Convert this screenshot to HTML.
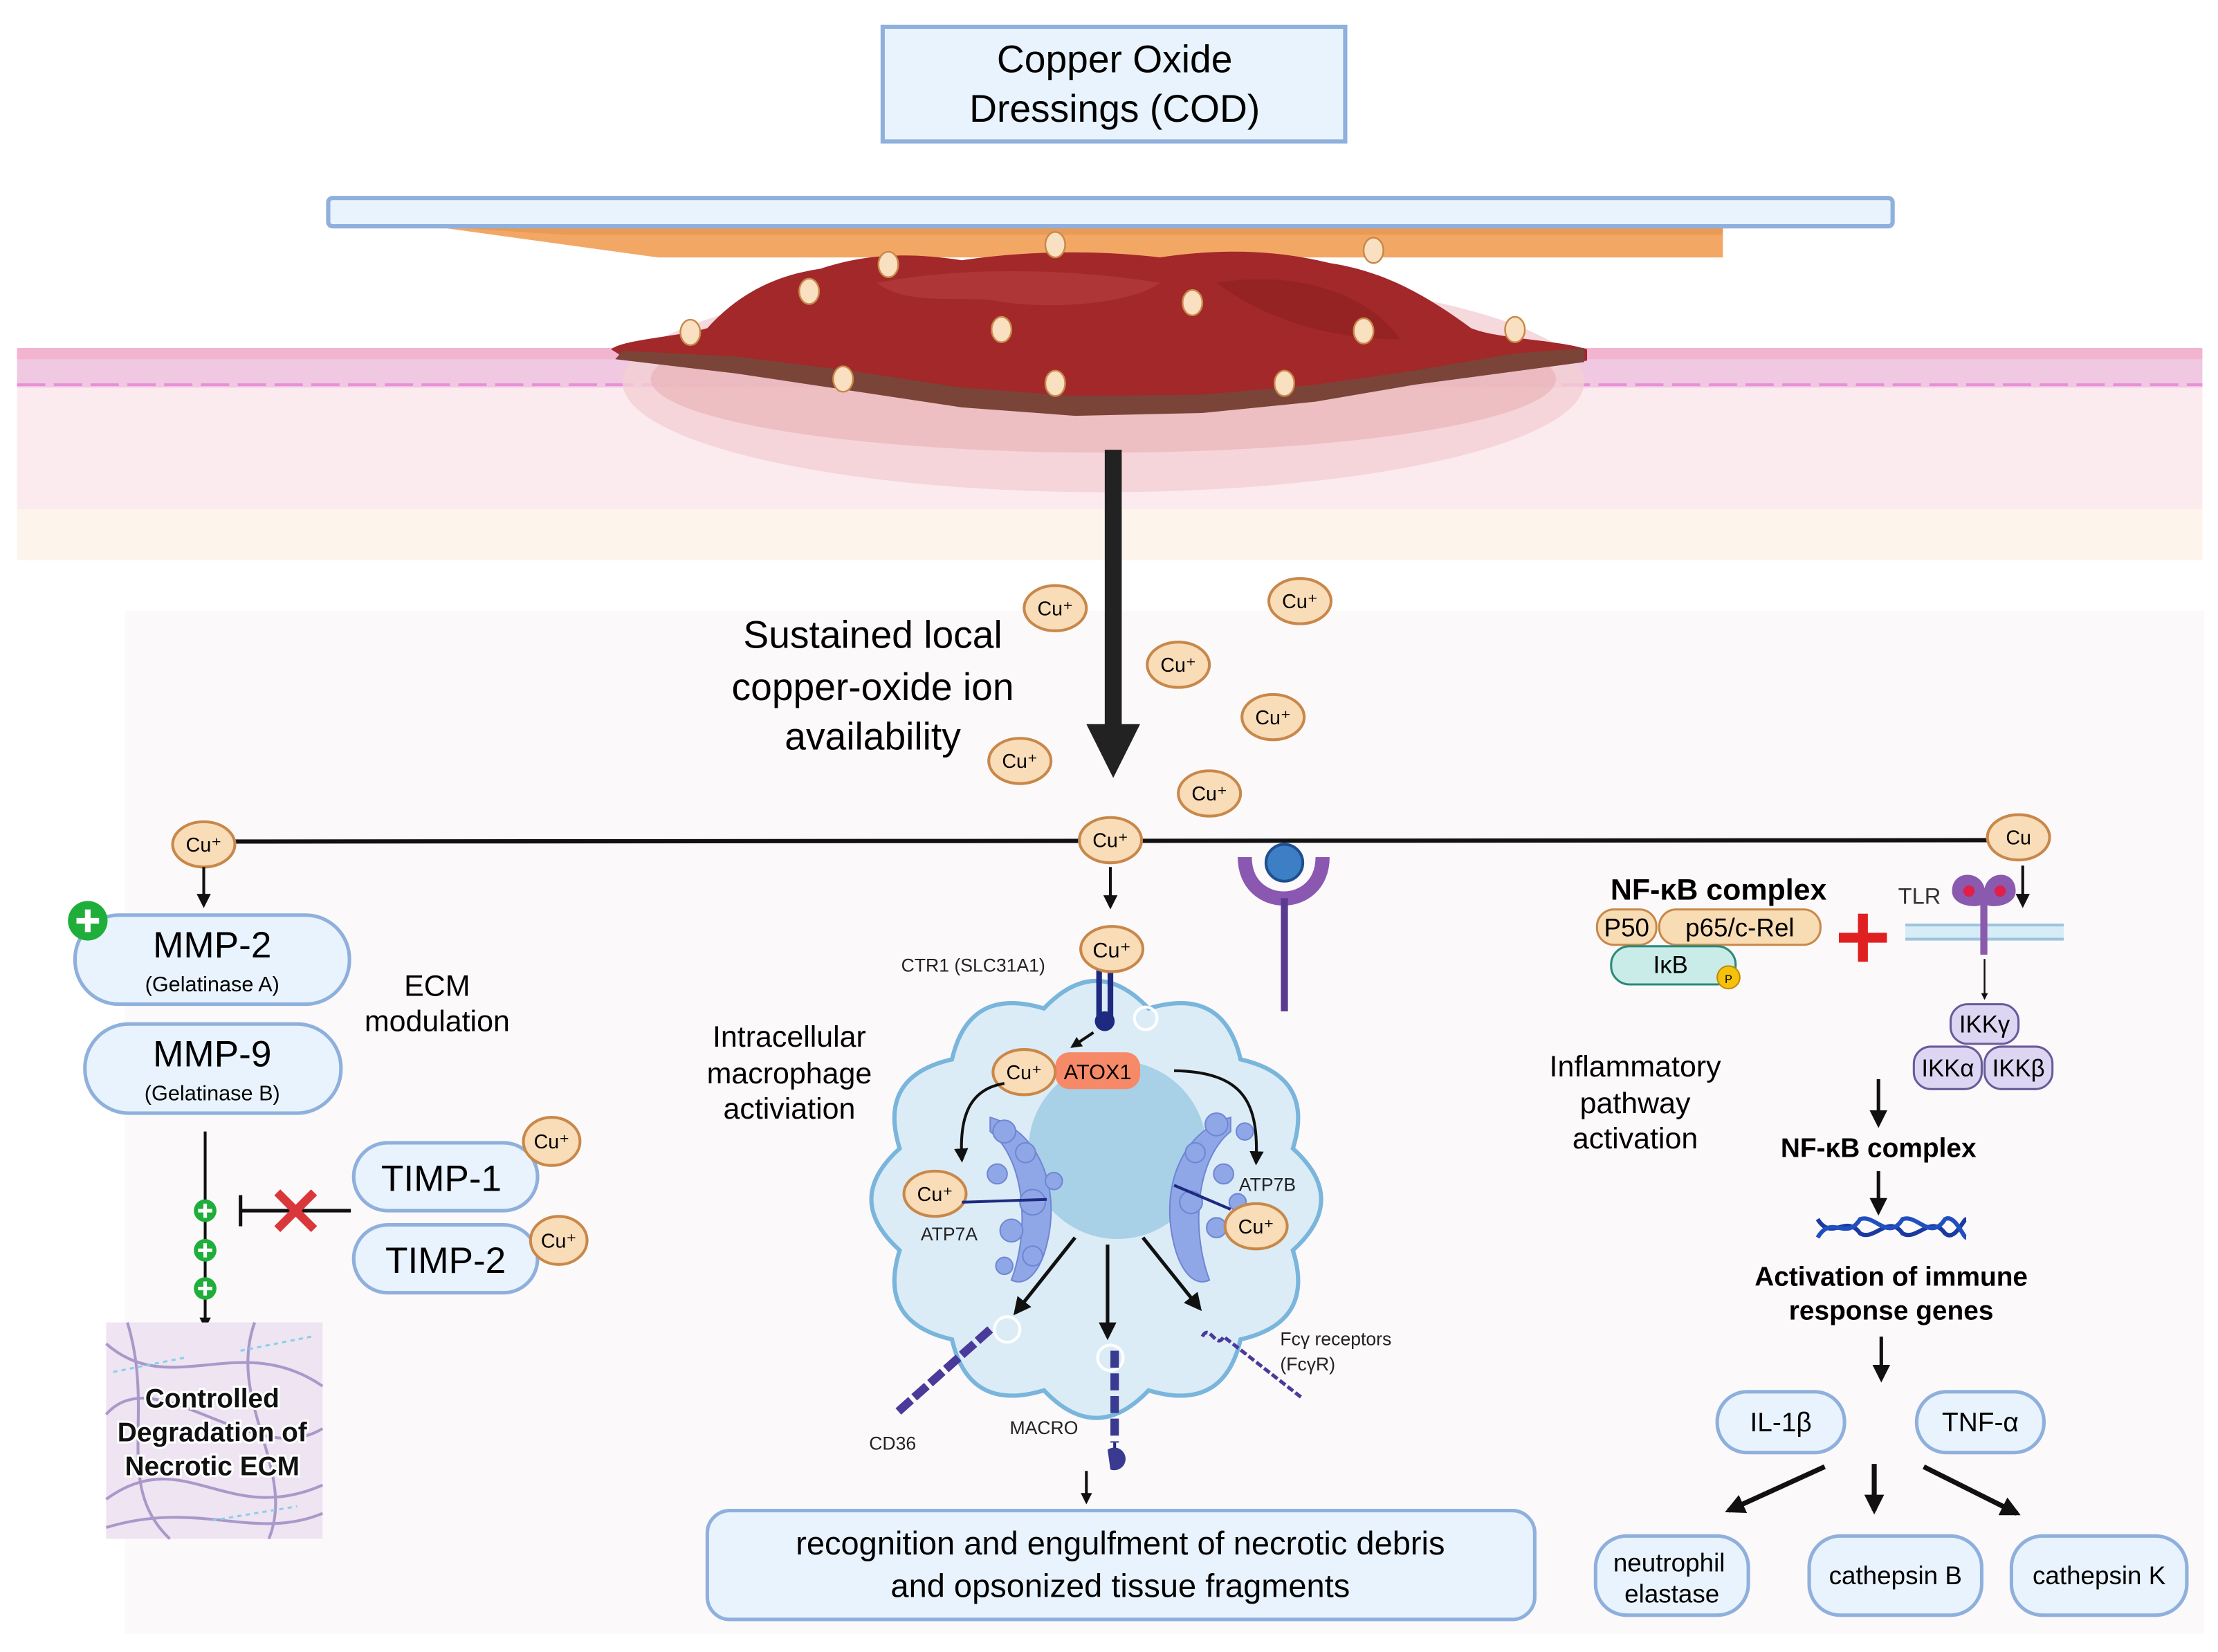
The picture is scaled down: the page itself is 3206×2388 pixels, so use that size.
<!DOCTYPE html>
<html><head><meta charset="utf-8"><style>
html,body{margin:0;padding:0;background:#fff}
svg{display:block}
text{font-family:"Liberation Sans",sans-serif}
</style></head><body>
<svg width="3206" height="2388" viewBox="0 0 1568 1168" xmlns="http://www.w3.org/2000/svg">
<defs>
<marker id="ah" viewBox="0 0 10 10" refX="8" refY="5" markerWidth="5" markerHeight="5" orient="auto"><path d="M0,0 L10,5 L0,10 z" fill="#111"/></marker>
<marker id="ahs" viewBox="0 0 10 10" refX="8" refY="5" markerWidth="4" markerHeight="4" orient="auto"><path d="M0,0 L10,5 L0,10 z" fill="#111"/></marker>
<g id="cu"><ellipse rx="22" ry="16" fill="#f9dcb8" stroke="#c8884a" stroke-width="2"/></g>
<g id="cus"><ellipse rx="7" ry="9" fill="#f9e0c0" stroke="#c8884a" stroke-width="1.2"/></g>
</defs>
<rect width="1568" height="1168" fill="#fff"/>
<rect x="88" y="432" width="1470" height="723" fill="#fcf9fb"/>
<!-- title -->
<rect x="624" y="19" width="327" height="81" fill="#e9f3fd" stroke="#8fb0dc" stroke-width="3"/>
<text x="788" y="51" font-size="27" text-anchor="middle">Copper Oxide</text>
<text x="788" y="86" font-size="27" text-anchor="middle">Dressings (COD)</text>
<!-- skin -->
<rect x="12" y="248" width="1545" height="148" fill="#fcebee"/>
<rect x="12" y="360" width="1545" height="36" fill="#fdf5ec"/>
<rect x="12" y="250" width="1545" height="24" fill="#f0c8e2"/>
<rect x="12" y="246" width="1545" height="8" fill="#f3b4cf"/>
<line x1="12" y1="272" x2="1557" y2="272" stroke="#e890d8" stroke-width="2" stroke-dasharray="20 6"/>
<ellipse cx="780" cy="270" rx="340" ry="78" fill="#f3d0d4" opacity="0.8"/>
<ellipse cx="780" cy="268" rx="320" ry="52" fill="#e9b3b8" opacity="0.7"/>
<!-- dressing -->
<polygon points="305,160 1218,160 1218,182 465,182" fill="#f3a764"/>
<polygon points="305,160 1218,160 1218,166 400,166" fill="#e99a55"/>
<rect x="232" y="140" width="1106" height="20" rx="3" fill="#e9f3fd" stroke="#8fb0dc" stroke-width="3"/>
<!-- wound -->
<path d="M432,247 C440,240 480,238 500,232 C520,210 545,195 580,190 C610,180 640,178 680,184 C720,178 770,176 820,182 C860,176 900,176 940,186 C980,192 1010,210 1040,232 C1060,240 1100,240 1122,247 L1122,255 L1060,262 L1000,270 L930,282 L850,290 L760,292 L680,285 L600,272 L520,262 L440,252 Z" fill="#a2282a"/>
<path d="M440,248 L520,252 L600,262 L680,274 L760,280 L850,279 L930,272 L1000,262 L1070,250 L1120,246 L1120,256 L1000,272 L930,284 L850,292 L760,294 L680,288 L600,276 L520,264 L435,254 Z" fill="#7a4438"/>
<path d="M620,200 C680,188 760,190 820,200 C800,215 740,220 700,212 C670,210 640,215 620,200Z" fill="#b84040" opacity="0.6"/>
<path d="M860,200 C920,190 970,210 990,240 C950,240 900,230 860,200Z" fill="#8e1f22" opacity="0.6"/>
<g>
<use href="#cus" x="746" y="173"/><use href="#cus" x="971" y="177"/><use href="#cus" x="628" y="187"/><use href="#cus" x="572" y="206"/>
<use href="#cus" x="843" y="214"/><use href="#cus" x="708" y="233"/><use href="#cus" x="964" y="234"/><use href="#cus" x="488" y="235"/>
<use href="#cus" x="1071" y="233"/><use href="#cus" x="596" y="268"/><use href="#cus" x="746" y="271"/><use href="#cus" x="908" y="271"/>
</g>
<!-- main arrow -->
<rect x="781" y="318" width="12" height="196" fill="#222"/>
<polygon points="768,512 806,512 787,550" fill="#222"/>
<text font-size="27" text-anchor="middle"><tspan x="617" y="458">Sustained local</tspan><tspan x="617" y="495">copper-oxide ion</tspan><tspan x="617" y="530">availability</tspan></text>
<g font-size="14" text-anchor="middle">
<use href="#cu" x="746" y="430"/><text x="746" y="435">Cu⁺</text>
<use href="#cu" x="919" y="425"/><text x="919" y="430">Cu⁺</text>
<use href="#cu" x="833" y="470"/><text x="833" y="475">Cu⁺</text>
<use href="#cu" x="900" y="507"/><text x="900" y="512">Cu⁺</text>
<use href="#cu" x="721" y="538"/><text x="721" y="543">Cu⁺</text>
<use href="#cu" x="855" y="561"/><text x="855" y="566">Cu⁺</text>
</g>
<line x1="145" y1="595" x2="1430" y2="594" stroke="#111" stroke-width="3"/>
<g font-size="14" text-anchor="middle">
<use href="#cu" x="144" y="597"/><text x="144" y="602">Cu⁺</text>
<use href="#cu" x="785" y="594"/><text x="785" y="599">Cu⁺</text>
<use href="#cu" x="1427" y="592"/><text x="1427" y="597">Cu</text>
</g>
<!-- LEFT -->
<line x1="144" y1="613" x2="144" y2="640" stroke="#111" stroke-width="2" marker-end="url(#ah)"/>
<rect x="53" y="647" width="194" height="63" rx="31" fill="#e9f3fd" stroke="#8fb0dc" stroke-width="2.5"/>
<text x="150" y="677" font-size="26" text-anchor="middle">MMP-2</text>
<text x="150" y="701" font-size="15" text-anchor="middle">(Gelatinase A)</text>
<circle cx="62" cy="651" r="14" fill="#1fae3a"/><path d="M54,651h16M62,643v16" stroke="#fff" stroke-width="4"/>
<rect x="60" y="724" width="181" height="63" rx="31" fill="#e9f3fd" stroke="#8fb0dc" stroke-width="2.5"/>
<text x="150" y="754" font-size="26" text-anchor="middle">MMP-9</text>
<text x="150" y="778" font-size="15" text-anchor="middle">(Gelatinase B)</text>
<text x="309" y="704" font-size="21" text-anchor="middle">ECM</text>
<text x="309" y="729" font-size="21" text-anchor="middle">modulation</text>
<line x1="145" y1="800" x2="145" y2="938" stroke="#111" stroke-width="2" marker-end="url(#ahs)"/>
<g fill="#1fae3a"><circle cx="145" cy="856" r="8"/><circle cx="145" cy="884" r="8"/><circle cx="145" cy="911" r="8"/></g>
<g stroke="#fff" stroke-width="2.5"><path d="M140,856h10M145,851v10M140,884h10M145,879v10M140,911h10M145,906v10"/></g>
<line x1="170" y1="856" x2="248" y2="856" stroke="#111" stroke-width="2.5"/>
<line x1="170" y1="845" x2="170" y2="867" stroke="#111" stroke-width="2.5"/>
<path d="M196,843 L222,869 M222,843 L196,869" stroke="#d9373a" stroke-width="6"/>
<rect x="250" y="808" width="130" height="48" rx="24" fill="#e9f3fd" stroke="#8fb0dc" stroke-width="2.5"/>
<text x="312" y="842" font-size="26" text-anchor="middle">TIMP-1</text>
<rect x="250" y="866" width="130" height="48" rx="24" fill="#e9f3fd" stroke="#8fb0dc" stroke-width="2.5"/>
<text x="315" y="900" font-size="26" text-anchor="middle">TIMP-2</text>
<g font-size="14" text-anchor="middle">
<ellipse cx="390" cy="807" rx="20" ry="17" fill="#f9dcb8" stroke="#c8884a" stroke-width="2"/><text x="390" y="812">Cu⁺</text>
<ellipse cx="395" cy="877" rx="20" ry="17" fill="#f9dcb8" stroke="#c8884a" stroke-width="2"/><text x="395" y="882">Cu⁺</text>
</g>
<rect x="75" y="935" width="153" height="153" fill="#eee4f2"/>
<g stroke="#9a86c0" stroke-width="2" fill="none" opacity="0.8">
<path d="M75,950 C120,990 170,940 228,980"/><path d="M75,1000 C110,960 180,1040 228,1010"/><path d="M75,1060 C130,1020 160,1080 228,1050"/><path d="M90,935 C110,1000 80,1050 120,1088"/><path d="M180,935 C160,990 210,1040 190,1088"/><path d="M75,1080 C140,1060 180,1090 228,1070"/>
</g>
<g stroke="#8ad0e8" stroke-width="1.5" fill="none" stroke-dasharray="3 3"><path d="M80,970 L130,960"/><path d="M150,1075 L210,1065"/><path d="M170,955 L220,945"/></g>
<g font-size="19" font-weight="bold" text-anchor="middle" fill="#111" stroke="#fff" stroke-width="3" paint-order="stroke">
<text x="150" y="995">Controlled</text><text x="150" y="1019">Degradation of</text><text x="150" y="1043">Necrotic ECM</text></g>
<!-- CENTER -->
<line x1="785" y1="613" x2="785" y2="641" stroke="#111" stroke-width="2" marker-end="url(#ah)"/>
<path d="M914,812 Q954,848 914,884 Q930,935 877,947 Q865,999 812,983 Q775,1022 738,983 Q685,999 673,947 Q620,935 636,884 Q596,848 636,812 Q620,761 673,749 Q685,697 738,713 Q775,674 812,713 Q865,697 877,749 Q930,761 914,812Z" fill="#dcecf7" stroke="#7ab5dc" stroke-width="3"/>
<circle cx="790" cy="813" r="63" fill="#a8d0e6"/>
<g fill="#8fa7e6" stroke="#6f86d4" stroke-width="1">
<path d="M700,790 C735,800 750,840 740,880 C735,900 725,910 715,905 C728,870 725,820 700,800Z"/>
<circle cx="710" cy="800" r="8"/><circle cx="725" cy="815" r="7"/><circle cx="705" cy="830" r="7"/><circle cx="730" cy="850" r="9"/><circle cx="715" cy="870" r="8"/><circle cx="730" cy="888" r="7"/><circle cx="710" cy="895" r="6"/><circle cx="745" cy="835" r="6"/>
<path d="M870,790 C835,800 820,840 830,880 C835,900 845,910 855,905 C842,870 845,820 870,800Z"/>
<circle cx="860" cy="795" r="8"/><circle cx="845" cy="815" r="7"/><circle cx="865" cy="830" r="7"/><circle cx="842" cy="850" r="8"/><circle cx="860" cy="868" r="7"/><circle cx="880" cy="800" r="6"/><circle cx="875" cy="850" r="6"/>
</g>
<g fill="none" stroke="#fff" stroke-width="2"><circle cx="665" cy="850" r="10"/><circle cx="785" cy="960" r="9"/><circle cx="712" cy="940" r="9"/><circle cx="810" cy="720" r="8"/></g>
<path d="M777,684 L777,720 M785,684 L785,720" stroke="#1e2a80" stroke-width="4"/>
<circle cx="781" cy="722" r="7" fill="#1e2a80"/>
<use href="#cu" x="786" y="671"/><text x="786" y="677" font-size="15" text-anchor="middle">Cu⁺</text>
<text x="688" y="687" font-size="13" text-anchor="middle" fill="#222">CTR1 (SLC31A1)</text>
<text font-size="21" text-anchor="middle"><tspan x="558" y="740">Intracellular</tspan><tspan x="558" y="766">macrophage</tspan><tspan x="558" y="791">activiation</tspan></text>
<line x1="773" y1="730" x2="758" y2="740" stroke="#111" stroke-width="2" marker-end="url(#ahs)"/>
<rect x="746" y="744" width="60" height="26" rx="10" fill="#f68a68"/>
<text x="776" y="763" font-size="15" text-anchor="middle">ATOX1</text>
<use href="#cu" x="724" y="758"/><text x="724" y="763" font-size="14" text-anchor="middle">Cu⁺</text>
<path d="M710,766 C685,770 678,790 680,820" fill="none" stroke="#111" stroke-width="2" marker-end="url(#ah)"/>
<path d="M830,757 C880,758 890,780 888,822" fill="none" stroke="#111" stroke-width="2" marker-end="url(#ah)"/>
<use href="#cu" x="661" y="844"/><text x="661" y="849" font-size="14" text-anchor="middle">Cu⁺</text>
<line x1="680" y1="850" x2="740" y2="848" stroke="#1e2a80" stroke-width="2"/>
<text x="671" y="877" font-size="13" text-anchor="middle" fill="#222">ATP7A</text>
<use href="#cu" x="888" y="867"/><text x="888" y="872" font-size="14" text-anchor="middle">Cu⁺</text>
<line x1="830" y1="838" x2="870" y2="855" stroke="#1e2a80" stroke-width="2"/>
<text x="896" y="842" font-size="13" text-anchor="middle" fill="#222">ATP7B</text>
<line x1="760" y1="875" x2="718" y2="928" stroke="#111" stroke-width="2.5" marker-end="url(#ah)"/>
<line x1="783" y1="880" x2="783" y2="945" stroke="#111" stroke-width="2.5" marker-end="url(#ah)"/>
<line x1="808" y1="875" x2="848" y2="925" stroke="#111" stroke-width="2.5" marker-end="url(#ah)"/>
<path d="M700,940 L635,998" stroke="#4a3a9a" stroke-width="6" stroke-dasharray="12 3"/>
<text x="631" y="1025" font-size="13" text-anchor="middle" fill="#222">CD36</text>
<path d="M788,955 L788,1020" stroke="#3a3a90" stroke-width="6" stroke-dasharray="12 4"/>
<path d="M788,1020 L788,1030" stroke="#1e2a80" stroke-width="2"/>
<path d="M783,1025 a8,8 0 1 1 2,14" fill="#3a3a90"/>
<text x="738" y="1014" font-size="13" text-anchor="middle" fill="#222">MACRO</text>
<path d="M850,945 C855,935 860,955 865,945 L920,988" stroke="#4a3a9a" stroke-width="2.5" fill="none" stroke-dasharray="5 2"/>
<text x="905" y="951" font-size="13" fill="#222">Fcγ receptors</text>
<text x="905" y="969" font-size="13" fill="#222">(FcγR)</text>
<line x1="768" y1="1040" x2="768" y2="1062" stroke="#111" stroke-width="2" marker-end="url(#ahs)"/>
<rect x="500" y="1068" width="585" height="77" rx="16" fill="#e9f3fd" stroke="#8fb0dc" stroke-width="2.5"/>
<text x="792" y="1099" font-size="23" text-anchor="middle">recognition and engulfment of necrotic debris</text>
<text x="792" y="1129" font-size="23" text-anchor="middle">and opsonized tissue fragments</text>
<path d="M880,606 C880,645 935,645 935,606" fill="none" stroke="#8a58b0" stroke-width="10"/>
<line x1="908" y1="635" x2="908" y2="715" stroke="#5a3a90" stroke-width="5"/>
<circle cx="908" cy="610" r="13" fill="#3c7fc4" stroke="#1f4f90" stroke-width="2"/>
<!-- RIGHT -->
<text x="1215" y="636" font-size="21" font-weight="bold" text-anchor="middle">NF-κB complex</text>
<rect x="1129" y="643" width="42" height="25" rx="12" fill="#f8dcb4" stroke="#c8884a" stroke-width="1.5"/>
<text x="1150" y="662" font-size="18" text-anchor="middle">P50</text>
<rect x="1173" y="643" width="114" height="25" rx="12" fill="#f8dcb4" stroke="#c8884a" stroke-width="1.5"/>
<text x="1230" y="662" font-size="18" text-anchor="middle">p65/c-Rel</text>
<rect x="1139" y="669" width="88" height="27" rx="13" fill="#c9ece8" stroke="#2a8a7a" stroke-width="1.5"/>
<text x="1181" y="688" font-size="17" text-anchor="middle">IκB</text>
<circle cx="1222" cy="691" r="8" fill="#f4c20d" stroke="#c08a00"/><text x="1222" y="695" font-size="8" text-anchor="middle">P</text>
<path d="M1300,663h34M1317,646v34" stroke="#e02020" stroke-width="7"/>
<rect x="1347" y="654" width="112" height="10" fill="#d6ecf6"/>
<path d="M1347,654h112M1347,664h112" stroke="#9cc4dc" stroke-width="2"/>
<text x="1357" y="639" font-size="16" text-anchor="middle" fill="#333">TLR</text>
<path d="M1380,630 C1380,615 1400,615 1403,628 C1406,615 1425,615 1425,630 C1425,640 1410,642 1405,640 L1405,675 L1400,675 L1400,640 C1395,642 1380,640 1380,630Z" fill="#8a5aae"/>
<circle cx="1392" cy="630" r="4" fill="#e0204a"/><circle cx="1414" cy="630" r="4" fill="#e0204a"/>
<line x1="1430" y1="612" x2="1430" y2="640" stroke="#111" stroke-width="2" marker-end="url(#ah)"/>
<line x1="1403" y1="678" x2="1403" y2="706" stroke="#111" stroke-width="1.2" marker-end="url(#ahs)"/>
<g fill="#ddd6f3" stroke="#6a5a9a" stroke-width="1.5">
<rect x="1379" y="710" width="48" height="28" rx="12"/><rect x="1353" y="740" width="48" height="30" rx="12"/><rect x="1403" y="740" width="48" height="30" rx="12"/></g>
<g font-size="17" text-anchor="middle"><text x="1403" y="730">IKKγ</text><text x="1377" y="761">IKKα</text><text x="1427" y="761">IKKβ</text></g>
<text font-size="21" text-anchor="middle"><tspan x="1156" y="761">Inflammatory</tspan><tspan x="1156" y="787">pathway</tspan><tspan x="1156" y="812">activation</tspan></text>
<line x1="1328" y1="763" x2="1328" y2="795" stroke="#111" stroke-width="2.5" marker-end="url(#ah)"/>
<text x="1328" y="818" font-size="19" font-weight="bold" text-anchor="middle">NF-κB complex</text>
<line x1="1328" y1="828" x2="1328" y2="857" stroke="#111" stroke-width="2.5" marker-end="url(#ah)"/>
<path d="M1285,862 C1295,878 1305,858 1315,872 C1325,878 1335,858 1345,872 C1355,878 1365,858 1375,872 C1382,878 1388,862 1390,862" fill="none" stroke="#1a3aa0" stroke-width="3"/>
<path d="M1285,875 C1295,858 1305,878 1315,862 C1325,858 1335,878 1345,862 C1355,858 1365,878 1375,862 C1382,858 1388,875 1390,875" fill="none" stroke="#2050c0" stroke-width="3"/>
<text x="1337" y="909" font-size="19" font-weight="bold" text-anchor="middle">Activation of immune</text>
<text x="1337" y="933" font-size="19" font-weight="bold" text-anchor="middle">response genes</text>
<line x1="1330" y1="945" x2="1330" y2="975" stroke="#111" stroke-width="2.5" marker-end="url(#ah)"/>
<rect x="1214" y="984" width="90" height="43" rx="21" fill="#e9f3fd" stroke="#8fb0dc" stroke-width="2.5"/>
<text x="1259" y="1012" font-size="19" text-anchor="middle">IL-1β</text>
<rect x="1355" y="984" width="90" height="43" rx="21" fill="#e9f3fd" stroke="#8fb0dc" stroke-width="2.5"/>
<text x="1400" y="1012" font-size="19" text-anchor="middle">TNF-α</text>
<line x1="1290" y1="1037" x2="1222" y2="1068" stroke="#111" stroke-width="3.5" marker-end="url(#ahs)"/>
<line x1="1325" y1="1035" x2="1325" y2="1068" stroke="#111" stroke-width="3.5" marker-end="url(#ahs)"/>
<line x1="1360" y1="1037" x2="1426" y2="1070" stroke="#111" stroke-width="3.5" marker-end="url(#ahs)"/>
<rect x="1128" y="1086" width="108" height="56" rx="22" fill="#e9f3fd" stroke="#8fb0dc" stroke-width="2.5"/>
<text x="1180" y="1111" font-size="18" text-anchor="middle">neutrophil</text>
<text x="1182" y="1133" font-size="18" text-anchor="middle">elastase</text>
<rect x="1279" y="1086" width="122" height="56" rx="22" fill="#e9f3fd" stroke="#8fb0dc" stroke-width="2.5"/>
<text x="1340" y="1120" font-size="18" text-anchor="middle">cathepsin B</text>
<rect x="1422" y="1086" width="124" height="56" rx="22" fill="#e9f3fd" stroke="#8fb0dc" stroke-width="2.5"/>
<text x="1484" y="1120" font-size="18" text-anchor="middle">cathepsin K</text>
</svg>
</body></html>
